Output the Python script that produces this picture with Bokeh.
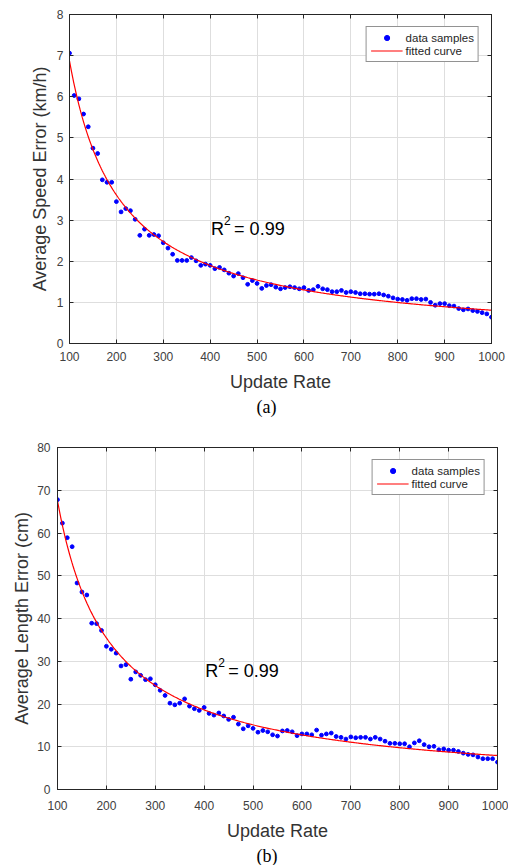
import numpy as np
from bokeh.plotting import figure
from bokeh.models import (LinearAxis, FixedTicker, Legend, LegendItem, Label,
                          Title, Range1d, CustomJSTickFormatter)
from bokeh.embed import file_html
from bokeh.resources import INLINE

# ---------------- data ----------------
update_rate = [100, 110, 120, 130, 140, 150, 160, 170, 180, 190,
               200, 210, 220, 230, 240, 250, 260, 270, 280, 290,
               300, 310, 320, 330, 340, 350, 360, 370, 380, 390,
               400, 410, 420, 430, 440, 450, 460, 470, 480, 490,
               500, 510, 520, 530, 540, 550, 560, 570, 580, 590,
               600, 610, 620, 630, 640, 650, 660, 670, 680, 690,
               700, 710, 720, 730, 740, 750, 760, 770, 780, 790,
               800, 810, 820, 830, 840, 850, 860, 870, 880, 890,
               900, 910, 920, 930, 940, 950, 960, 970, 980, 990, 1000]

speed_error = [7.06, 6.03, 5.95, 5.58, 5.27, 4.75, 4.62, 3.98, 3.92, 3.92,
               3.45, 3.20, 3.28, 3.23, 3.02, 2.63, 2.78, 2.63, 2.65, 2.62,
               2.45, 2.32, 2.17, 2.02, 2.02, 2.02, 2.09, 2.01, 1.90, 1.93,
               1.90, 1.82, 1.85, 1.79, 1.71, 1.64, 1.70, 1.60, 1.44, 1.53,
               1.46, 1.34, 1.41, 1.43, 1.37, 1.33, 1.36, 1.38, 1.36, 1.33,
               1.36, 1.29, 1.31, 1.39, 1.33, 1.31, 1.26, 1.26, 1.29, 1.24,
               1.26, 1.24, 1.21, 1.21, 1.20, 1.20, 1.21, 1.18, 1.15, 1.11,
               1.08, 1.07, 1.05, 1.09, 1.09, 1.07, 1.08, 1.00, 0.93, 0.97,
               0.97, 0.92, 0.91, 0.85, 0.82, 0.84, 0.80, 0.78, 0.75, 0.72, 0.64]

length_error = [67.8, 62.3, 58.9, 56.8, 48.3, 46.2, 45.5, 38.9, 38.8, 37.2,
                33.5, 32.8, 31.9, 28.9, 29.2, 25.8, 27.5, 26.7, 25.7, 25.9,
                24.5, 23.2, 22.0, 20.2, 19.8, 20.2, 21.2, 19.5, 18.9, 18.5,
                19.2, 17.8, 17.4, 17.9, 17.2, 16.4, 16.9, 15.3, 14.2, 14.9,
                14.3, 13.4, 13.8, 13.5, 12.8, 12.5, 13.7, 13.8, 13.5, 12.6,
                13.0, 13.0, 12.8, 13.9, 12.7, 13.0, 13.2, 12.4, 12.2, 11.8,
                12.3, 12.1, 12.2, 12.2, 11.8, 12.2, 11.8, 11.3, 10.8, 10.8,
                10.7, 10.7, 10.0, 10.9, 11.4, 10.5, 10.0, 10.1, 9.3, 9.5,
                9.2, 9.2, 8.9, 8.5, 8.2, 8.1, 7.6, 7.2, 7.2, 7.2, 6.4]

x_ticks = [100, 200, 300, 400, 500, 600, 700, 800, 900, 1000]
speed_ticks = [0, 1, 2, 3, 4, 5, 6, 7, 8]
length_ticks = [0, 10, 20, 30, 40, 50, 60, 70, 80]

x_label = "Update Rate"
speed_label = "Average Speed Error (km/h)"
length_label = "Average Length Error (cm)"
legend_labels = ["data samples", "fitted curve"]
r2_text = "0.99"

FONT = "Liberation Sans"
DARK = "#262626"


def power_fit(x, y):
    """Least-squares fit of y = a * x**b to the samples."""
    x = np.asarray(x, float)
    y = np.asarray(y, float)
    best = None
    for b in np.linspace(-1.6, -0.4, 2401):
        xb = x ** b
        a = (y * xb).sum() / (xb * xb).sum()
        r = ((y - a * xb) ** 2).sum()
        if best is None or r < best[0]:
            best = (r, a, b)
    return best[1], best[2]


def mirror_axis(ticks):
    return LinearAxis(ticker=FixedTicker(ticks=ticks),
                      formatter=CustomJSTickFormatter(code="return ''"),
                      major_label_text_font_size="0px",
                      major_label_standoff=0,
                      major_tick_in=4, major_tick_out=0,
                      minor_tick_line_color=None,
                      axis_line_color=DARK, major_tick_line_color=DARK)


def make_panel(y_data, y_ticks, y_label, caption, r_anchor, geom, stand):
    (h, bl, br, bt, bb, cap_off) = geom
    (x_major, x_lab, y_major, y_lab, cap_stand) = stand
    p = figure(width=508, height=h,
               x_range=Range1d(100, 1000), y_range=Range1d(y_ticks[0], y_ticks[-1]),
               output_backend="svg", toolbar_location=None,
               min_border_left=bl, min_border_right=br,
               min_border_top=bt, min_border_bottom=bb,
               background_fill_color="white", border_fill_color="white")
    p.outline_line_color = DARK

    p.xaxis.ticker = FixedTicker(ticks=x_ticks)
    p.yaxis.ticker = FixedTicker(ticks=y_ticks)
    p.xgrid.ticker = FixedTicker(ticks=x_ticks)
    p.ygrid.ticker = FixedTicker(ticks=y_ticks)
    p.grid.grid_line_color = "#dedede"
    p.grid.grid_line_width = 1

    for ax in (p.xaxis[0], p.yaxis[0]):
        ax.major_tick_in = 4
        ax.major_tick_out = 0
        ax.minor_tick_line_color = None
        ax.axis_line_color = DARK
        ax.major_tick_line_color = DARK
        ax.major_label_text_font = FONT
        ax.major_label_text_font_size = "12px"
        ax.major_label_text_color = "#404040"
        ax.axis_label_text_font = FONT
        ax.axis_label_text_font_size = "18px"
        ax.axis_label_text_font_style = "normal"
        ax.axis_label_text_color = "#333333"
    p.xaxis.axis_label = x_label
    p.yaxis.axis_label = y_label
    p.xaxis.major_label_standoff = x_major
    p.xaxis.axis_label_standoff = x_lab
    p.yaxis.major_label_standoff = y_major
    p.yaxis.axis_label_standoff = y_lab

    p.add_layout(mirror_axis(x_ticks), "above")
    p.add_layout(mirror_axis(y_ticks), "right")

    a, b = power_fit(update_rate, y_data)
    xc = np.linspace(update_rate[0], update_rate[-1], 400)
    yc = a * xc ** b

    sc = p.scatter(update_rate, y_data, size=3.8, marker="circle",
                   fill_color="#0000ff", line_color="#0000ff")
    ln = p.line(xc, yc, line_color="#ff0000", line_width=1.2)

    legend = Legend(items=[LegendItem(label=legend_labels[0], renderers=[sc]),
                           LegendItem(label=legend_labels[1], renderers=[ln])],
                    location="top_right", margin=12, padding=4, spacing=0,
                    glyph_width=32, glyph_height=13, label_height=13,
                    label_standoff=3,
                    label_text_font=FONT, label_text_font_size="11.5px",
                    label_text_color="#262626",
                    border_line_color=DARK, border_line_width=1,
                    background_fill_color="white", background_fill_alpha=1)
    p.add_layout(legend)

    rx, ry = r_anchor
    common = dict(x=rx, y=ry, text_font=FONT, text_color="black",
                  text_baseline="alphabetic", text_align="left")
    p.add_layout(Label(text="R", text_font_size="18px", **common))
    p.add_layout(Label(text="2", text_font_size="12px", x_offset=13, y_offset=8, **common))
    p.add_layout(Label(text="= " + r2_text, text_font_size="18px", x_offset=23, **common))

    p.add_layout(Title(text=caption, align="left", offset=cap_off,
                       text_font="Liberation Serif", text_font_size="18px",
                       text_font_style="normal", text_color="black", standoff=cap_stand),
                 "below")
    return p


top = make_panel(speed_error, speed_ticks, speed_label, "(a)", (402, 2.79),
                 (430, 69, 17, 14, 87, 187), (8, 8, 6, 4, 0))
bottom = make_panel(length_error, length_ticks, length_label, "(b)", (402, 27.8),
                    (435, 57, 11, 17, 73, 199), (11, 8, 7, 2, 0))

open("out.html", "w").write(file_html([top, bottom], INLINE))
